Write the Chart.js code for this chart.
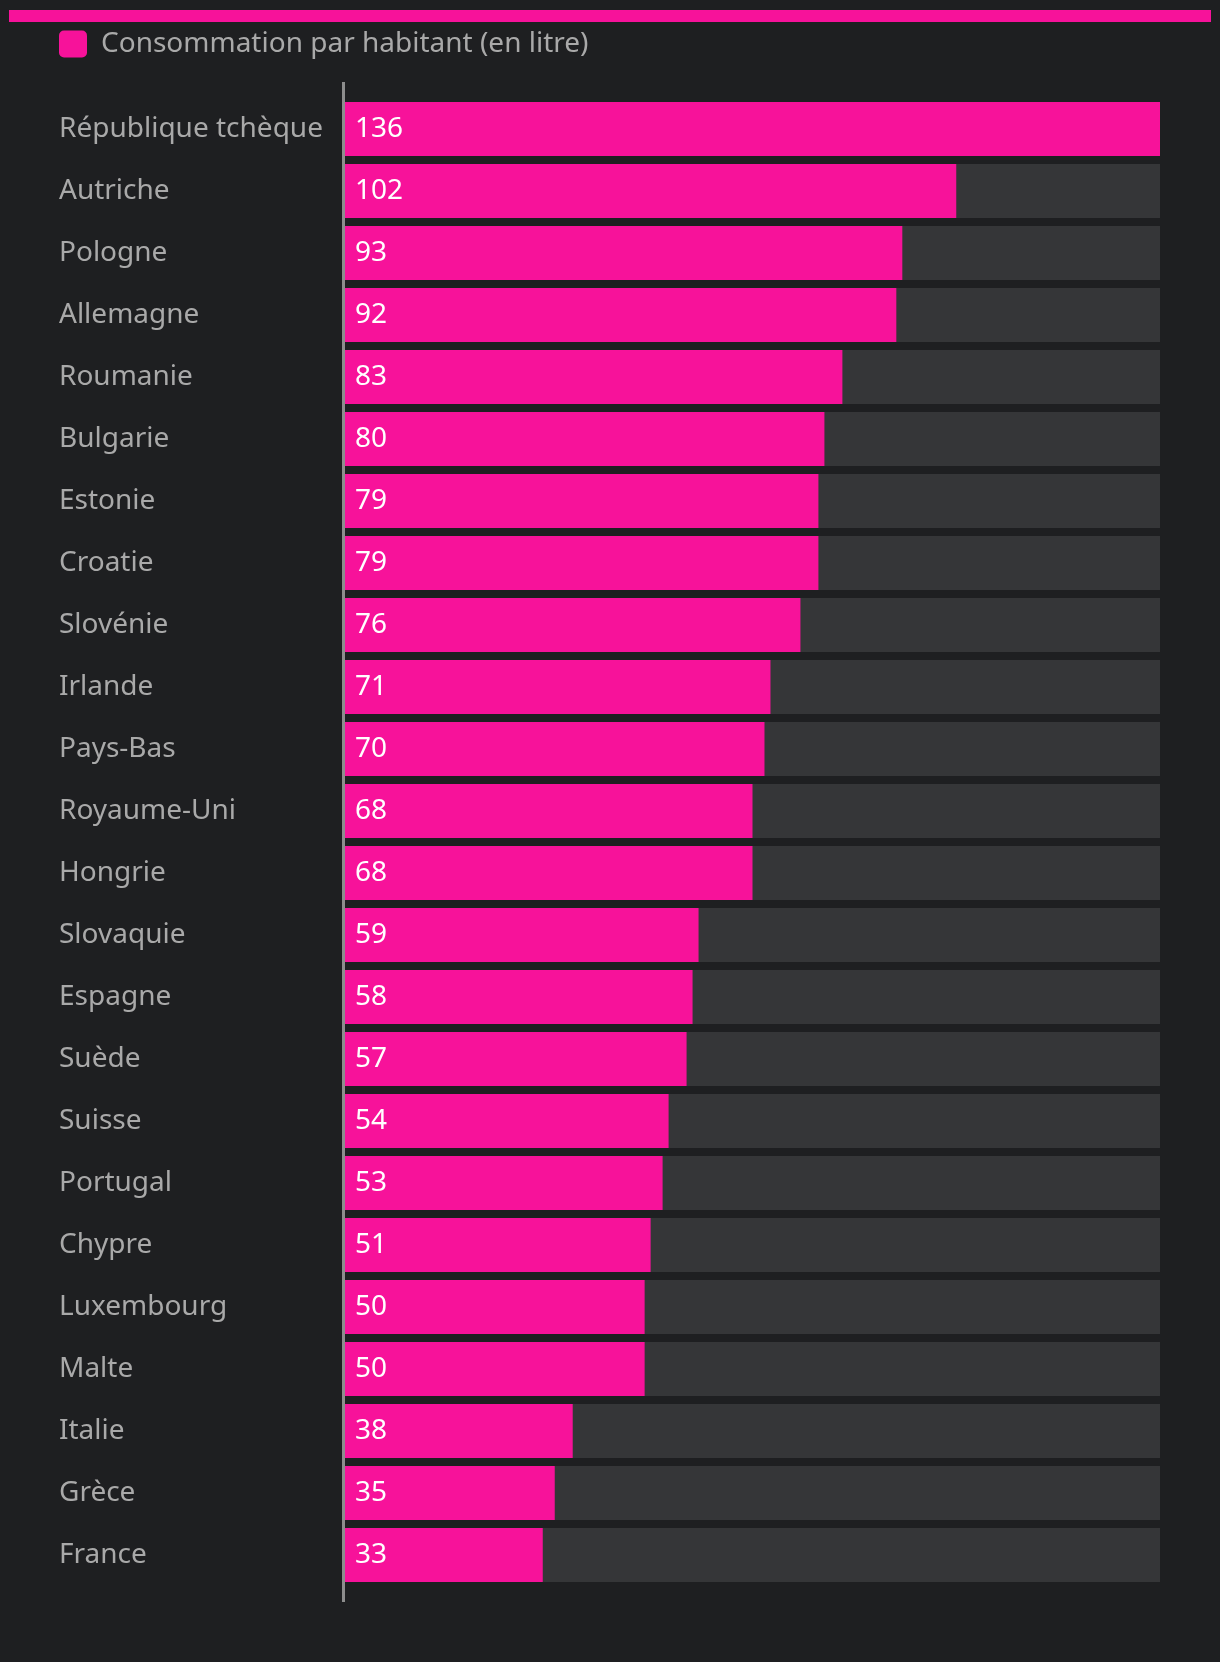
<!DOCTYPE html>
<html>
<head>
<meta charset="utf-8">
<script src="https://cdn.jsdelivr.net/npm/chart.js@4"></script>
<style>
  html, body { margin: 0; padding: 0; background: #1e1f21; }
  .wrap { position: relative; width: 1220px; height: 1662px; }
  .strip { position: absolute; left: 9px; top: 10px; width: 1202px; height: 12px; background: #f7129a; }
</style>
</head>
<body>
<div class="wrap">
  <div class="strip"></div>
  <canvas id="myChart"></canvas>
</div>
<script>
const categories = ['République tchèque', 'Autriche', 'Pologne', 'Allemagne', 'Roumanie', 'Bulgarie',
  'Estonie', 'Croatie', 'Slovénie', 'Irlande', 'Pays-Bas', 'Royaume-Uni', 'Hongrie', 'Slovaquie',
  'Espagne', 'Suède', 'Suisse', 'Portugal', 'Chypre', 'Luxembourg', 'Malte', 'Italie', 'Grèce', 'France'];
const values = [136, 102, 93, 92, 83, 80, 79, 79, 76, 71, 70, 68, 68, 59, 58, 57, 54, 53, 51, 50, 50, 38, 35, 33];
const seriesLabel = 'Consommation par habitant (en litre)';
const xMax = 136;

const pink = '#f7129a';
const fontFamily = '"Noto Sans", sans-serif';

// grey track behind every bar, full width of the scale
const trackPlugin = {
  id: 'tracks',
  beforeDatasetsDraw(chart) {
    const ctx = chart.ctx;
    const x = chart.scales.x;
    const meta = chart.getDatasetMeta(0);
    ctx.save();
    ctx.fillStyle = '#353638';
    meta.data.forEach(bar => {
      const x0 = x.getPixelForValue(0);
      const x1 = x.getPixelForValue(xMax);
      ctx.fillRect(x0, bar.y - bar.height / 2, x1 - x0, bar.height);
    });
    ctx.restore();
  }
};

// value written at the start of each bar
const valuePlugin = {
  id: 'values',
  afterDatasetsDraw(chart) {
    const ctx = chart.ctx;
    const meta = chart.getDatasetMeta(0);
    ctx.save();
    ctx.fillStyle = '#ffffff';
    ctx.font = '28px ' + fontFamily;
    ctx.textAlign = 'left';
    ctx.textBaseline = 'middle';
    meta.data.forEach((bar, i) => {
      ctx.fillText(String(values[i]), bar.base + 10, bar.y);
    });
    ctx.restore();
  }
};

// vertical axis line, a bit longer than the plot area
const axisPlugin = {
  id: 'axisLine',
  afterDraw(chart) {
    const {ctx, chartArea} = chart;
    ctx.save();
    ctx.strokeStyle = '#8d8d8d';
    ctx.lineWidth = 3;
    ctx.beginPath();
    ctx.moveTo(chartArea.left - 1.5, chartArea.top - 16);
    ctx.lineTo(chartArea.left - 1.5, chartArea.bottom + 16);
    ctx.stroke();
    ctx.restore();
  }
};

const ctx = document.getElementById('myChart').getContext('2d');
new Chart(ctx, {
  type: 'bar',
  data: {
    labels: categories,
    datasets: [{
      label: seriesLabel,
      data: values,
      backgroundColor: pink,
      borderWidth: 0,
      categoryPercentage: 1,
      barPercentage: 54 / 62,
    }]
  },
  options: {
    indexAxis: 'y',
    responsive: true,
    maintainAspectRatio: false,
    animation: false,
    layout: {
      padding: { top: 30, left: 59, right: 60, bottom: 76 }
    },
    scales: {
      x: {
        position: 'top',
        min: 0,
        max: xMax,
        grid: { display: false },
        border: { display: false },
        ticks: { display: false },
        afterFit(scale) { scale.height = 30; }
      },
      y: {
        grid: { display: false },
        border: { display: false },
        ticks: {
          color: '#a9a9a9',
          crossAlign: 'far',
          font: { family: fontFamily, size: 28 },
        },
        afterFit(scale) { scale.width = 286; }
      }
    },
    plugins: {
      legend: {
        position: 'top',
        align: 'start',
        labels: {
          color: '#a9a9a9',
          boxWidth: 28,
          boxHeight: 27,
          padding: 0,
          useBorderRadius: true,
          borderRadius: 5,
          font: { family: fontFamily, size: 28 },
        }
      },
      tooltip: { enabled: false }
    }
  },
  plugins: [trackPlugin, valuePlugin, axisPlugin]
});
</script>
</body>
</html>
